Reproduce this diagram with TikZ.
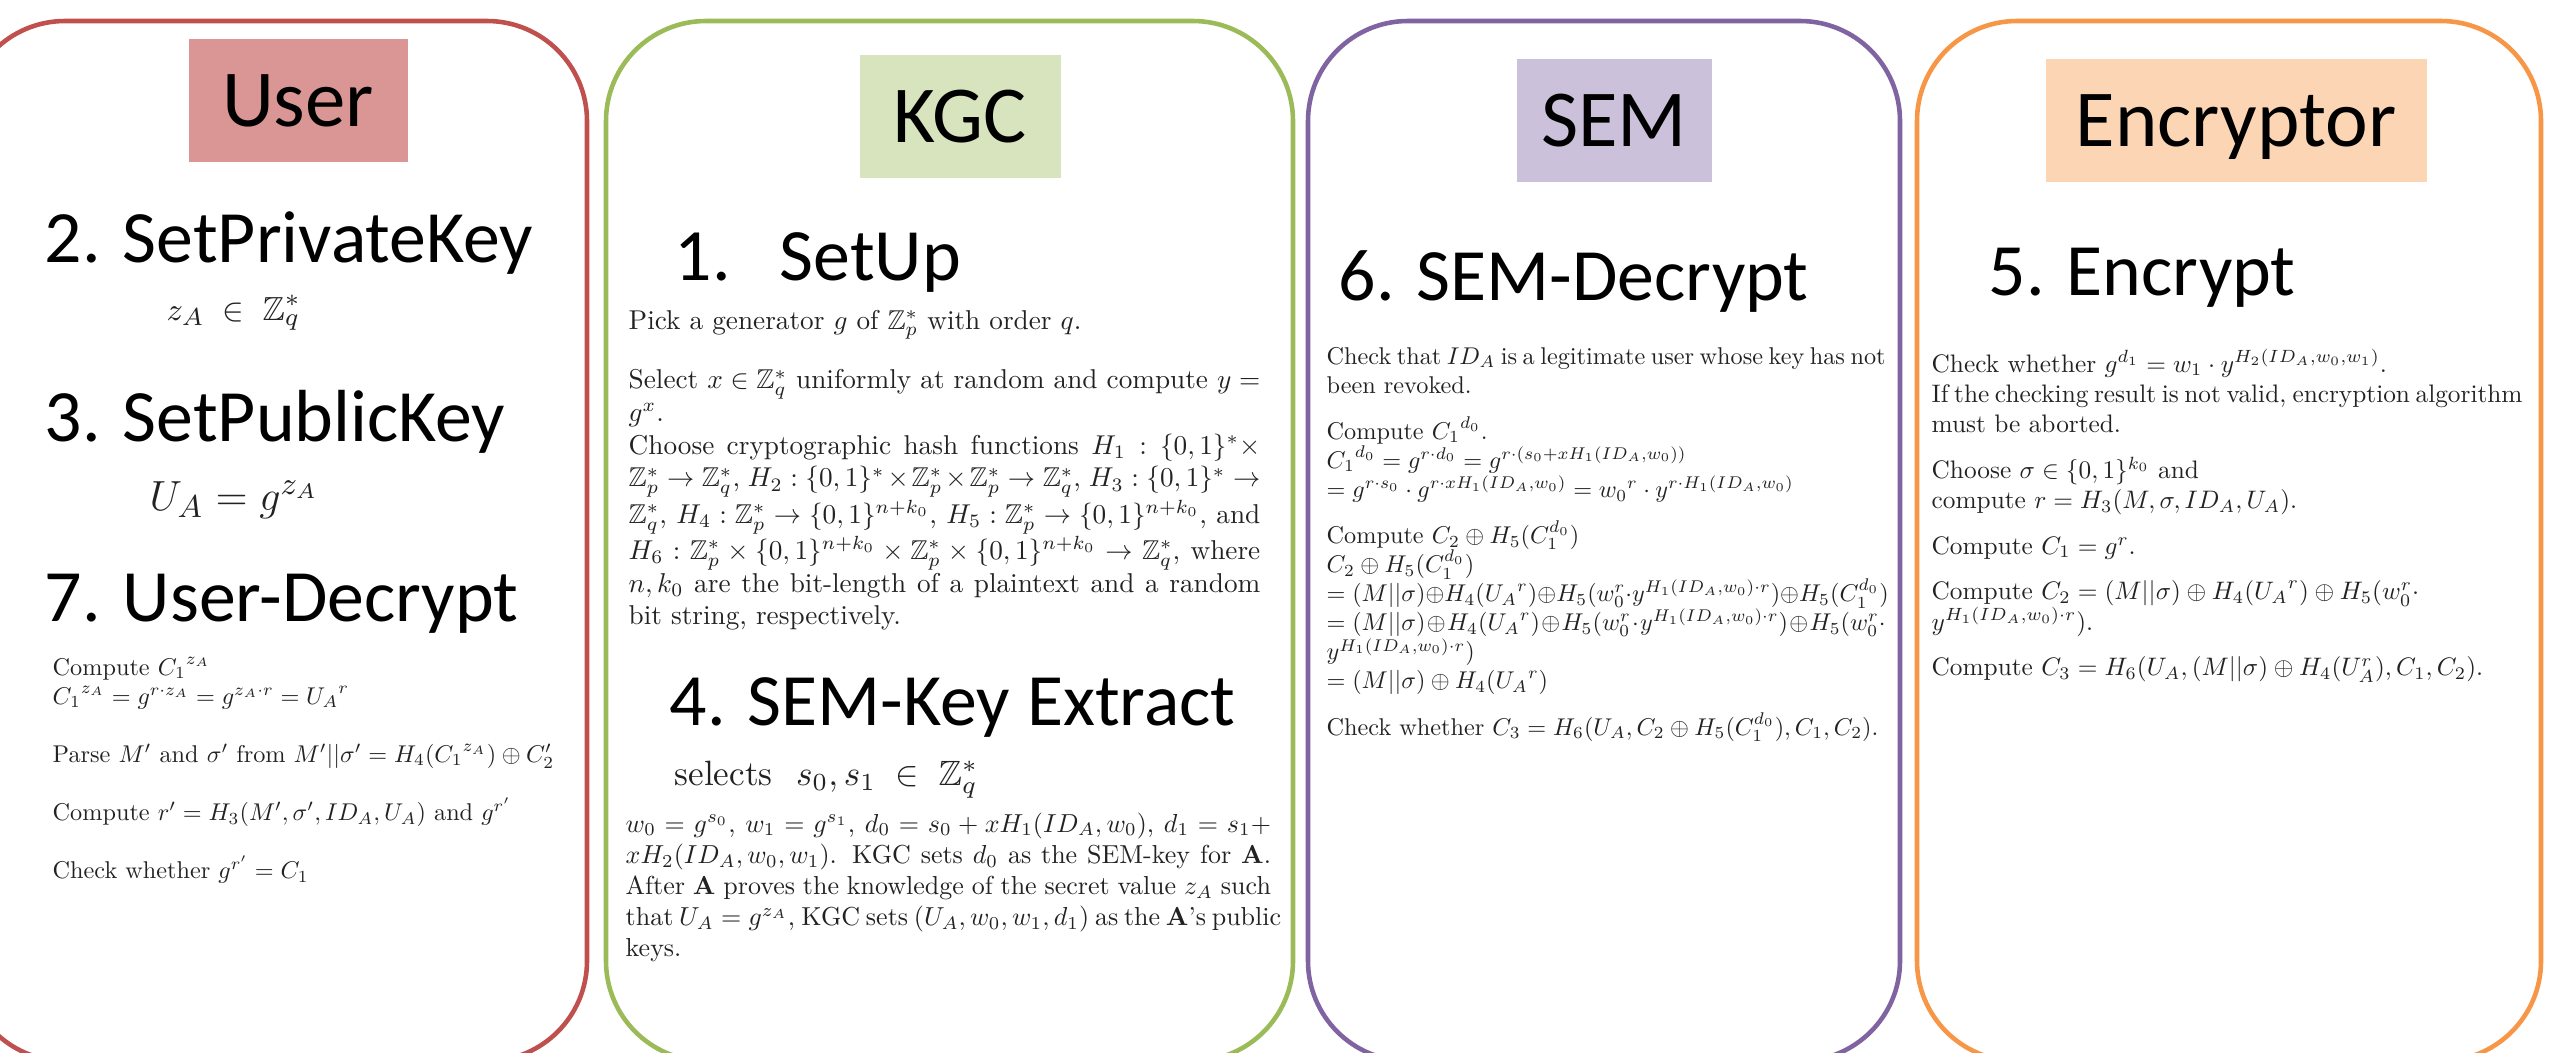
\documentclass[tikz,border=0pt]{standalone}
\usepackage{amsmath,amssymb}
\usepackage{fontspec}
\newfontfamily\slidefont{Carlito}
\usepackage{tikz}
\usetikzlibrary{positioning}
\definecolor{clUser}{HTML}{C0504D}
\definecolor{clUserWash}{HTML}{D99694}
\definecolor{clKgc}{HTML}{9BBB59}
\definecolor{clKgcWash}{HTML}{D7E4BD}
\definecolor{clSem}{HTML}{8064A2}
\definecolor{clSemWash}{HTML}{CCC1DA}
\definecolor{clEnc}{HTML}{F79646}
\definecolor{clEncWash}{HTML}{FCD5B5}
\definecolor{clInk}{HTML}{222222}
\newcommand\fullline[1]{\makebox[\linewidth][s]{#1}}
\tikzset{
  cl frame/.style={line width=1.3pt, rounded corners=1cm},
  cl tag/.style={font=\slidefont\fontsize{23}{27}\selectfont, text=black,
    inner sep=0pt, minimum height=1.23cm, text height=14.8pt, text depth=0pt},
  cl step/.style={font=\slidefont\fontsize{21}{25}\selectfont, text=black,
    anchor=base west, inner sep=0pt},
  cl math/.style={anchor=base west, inner sep=0pt, text=clInk},
  cl text/.style={anchor=base west, inner sep=0pt, text=clInk,
    font=\fontsize{10}{12}\selectfont}
}

\begin{document}
\begin{tikzpicture}[x=0.1mm,y=-0.1mm]
\path[use as bounding box,clip] (0,0) rectangle (2572,1052);
\draw[cl frame,clUser] (-35,21) rectangle (587,1061);
\draw[cl frame,clKgc] (606,21) rectangle (1293,1061);
\draw[cl frame,clSem] (1308,21) rectangle (1900,1061);
\draw[cl frame,clEnc] (1917,21) rectangle (2541,1061);
\node[cl tag,fill=clUserWash,minimum width=2.19cm] (usertag) at (298,100) {User};
\node[cl tag,fill=clKgcWash,minimum width=2.01cm] (kgctag) at (960,116) {KGC};
\node[cl tag,fill=clSemWash,minimum width=1.95cm] (semtag) at (1614,120) {SEM};
\node[cl tag,fill=clEncWash,minimum width=3.81cm] (enctag) at (2236,120) {Encryptor};
% User
\node[cl step] (privkey) at (44,262) {2. SetPrivateKey};
\node[cl math,font=\fontsize{9.5}{11}\selectfont] (privmath) at (166,320) {$z_A\;\in\;\mathbb{Z}_q^*$};
\node[cl step] (pubkey) at (44,441) {3. SetPublicKey};
\node[cl math,font=\fontsize{13}{15}\selectfont] (pubmath) at (149,510) {$U_A=g^{z_A}$};
\node[cl step] (userdec) at (44,621) {7. User-Decrypt};
\node[cl text] (userdectext) at (52,675) {\scalebox{0.69}{\parbox[t]{8cm}{
Compute ${C_1}^{z_A}$\\
${C_1}^{z_A}=g^{r\cdot z_A}=g^{z_A\cdot r}={U_A}^r$\\[12pt]
Parse $M'$ and $\sigma'$ from $M'||\sigma'=H_4({C_1}^{z_A})\oplus C_2'$\\[12pt]
Compute $r'=H_3(M',\sigma',ID_A,U_A)$ and $g^{r'}$\\[12pt]
Check whether $g^{r'}=C_1$}}};
% KGC
\node[cl step] (setup) at (674,280) {1.\hspace{14pt}SetUp};
\node[cl text] (setuptext) at (628,329) {\scalebox{0.775}{\parbox[t]{8.15cm}{
Pick a generator $g$ of $\mathbb{Z}_p^*$ with order $q$.\\[10pt]
\fullline{Select $x\in\mathbb{Z}_q^*$ uniformly at random and compute $y=$}\\
$g^x$.\\
\fullline{Choose cryptographic hash functions $H_1:\{0,1\}^*\times$}\\
\fullline{$\mathbb{Z}_p^*\to\mathbb{Z}_q^*$, $H_2:\{0,1\}^*\times\mathbb{Z}_p^*\times\mathbb{Z}_p^*\to\mathbb{Z}_q^*$, $H_3:\{0,1\}^*\to$}\\
\fullline{$\mathbb{Z}_q^*$, $H_4:\mathbb{Z}_p^*\to\{0,1\}^{n+k_0}$, $H_5:\mathbb{Z}_p^*\to\{0,1\}^{n+k_0}$, and}\\
\fullline{$H_6:\mathbb{Z}_p^*\times\{0,1\}^{n+k_0}\times\mathbb{Z}_p^*\times\{0,1\}^{n+k_0}\to\mathbb{Z}_q^*$, where}\\
\fullline{$n,k_0$ are the bit-length of a plaintext and a random}\\
bit string, respectively.}}};
\node[cl step] (semkey) at (669,725) {4. SEM-Key Extract};
\node[cl math,font=\fontsize{10}{12}\selectfont] (semkeymath) at (674,785) {selects\ \ $s_0,s_1\;\in\;\mathbb{Z}_q^*$};
\node[cl text] (semkeytext) at (625,832) {\scalebox{0.74}{\parbox[t]{8.72cm}{
\fullline{$w_0=g^{s_0}$, $w_1=g^{s_1}$, $d_0=s_0+xH_1(ID_A,w_0)$, $d_1=s_1+$}\\
\fullline{$xH_2(ID_A,w_0,w_1)$. KGC sets $d_0$ as the SEM-key for \textbf{A}.}\\
\fullline{After \textbf{A} proves the knowledge of the secret value $z_A$ such}\\
\fullline{that $U_A=g^{z_A}$, KGC sets $(U_A,w_0,w_1,d_1)$ as the \textbf{A}'s public}\\
keys.}}};
% SEM
\node[cl step] (semdec) at (1338,300) {6. SEM-Decrypt};
\node[cl text] (semdectext) at (1326,364) {\scalebox{0.69}{\parbox[t]{8.1cm}{
\fullline{Check that $ID_A$ is a legitimate user whose key has not}\\
been revoked.\\[7pt]
Compute ${C_1}^{d_0}$.\\
${C_1}^{d_0}=g^{r\cdot d_0}=g^{r\cdot(s_0+xH_1(ID_A,w_0))}$\\
$=g^{r\cdot s_0}\cdot g^{r\cdot xH_1(ID_A,w_0)}={w_0}^r\cdot y^{r\cdot H_1(ID_A,w_0)}$\\[7pt]
Compute $C_2\oplus H_5(C_1^{d_0})$\\
$C_2\oplus H_5(C_1^{d_0})$\\
\fullline{$=(M||\sigma){\oplus}H_4({U_A}^r){\oplus}H_5(w_0^r{\cdot}y^{H_1(ID_A,w_0)\cdot r}){\oplus}H_5(C_1^{d_0})$}\\
\fullline{$=(M||\sigma)\oplus H_4({U_A}^r)\oplus H_5(w_0^r\cdot y^{H_1(ID_A,w_0)\cdot r})\oplus H_5(w_0^r\cdot$}\\
$y^{H_1(ID_A,w_0)\cdot r})$\\
$=(M||\sigma)\oplus H_4({U_A}^r)$\\[7pt]
Check whether $C_3=H_6(U_A,C_2\oplus H_5(C_1^{d_0}),C_1,C_2)$.}}};
% Encryptor
\node[cl step] (encrypt) at (1988,295) {5. Encrypt};
\node[cl text] (encrypttext) at (1931,372) {\scalebox{0.72}{\parbox[t]{8.2cm}{
Check whether $g^{d_1}=w_1\cdot y^{H_2(ID_A,w_0,w_1)}$.\\
\fullline{If the checking result is not valid, encryption algorithm}\\
must be aborted.\\[6pt]
Choose $\sigma\in\{0,1\}^{k_0}$ and\\
compute $r=H_3(M,\sigma,ID_A,U_A)$.\\[6pt]
Compute $C_1=g^r$.\\[6pt]
Compute $C_2=(M||\sigma)\oplus H_4({U_A}^r)\oplus H_5(w_0^r\cdot$\\
$y^{H_1(ID_A,w_0)\cdot r})$.\\[6pt]
Compute $C_3=H_6(U_A,(M||\sigma)\oplus H_4(U_A^r),C_1,C_2)$.}}};
\end{tikzpicture}
\end{document}
